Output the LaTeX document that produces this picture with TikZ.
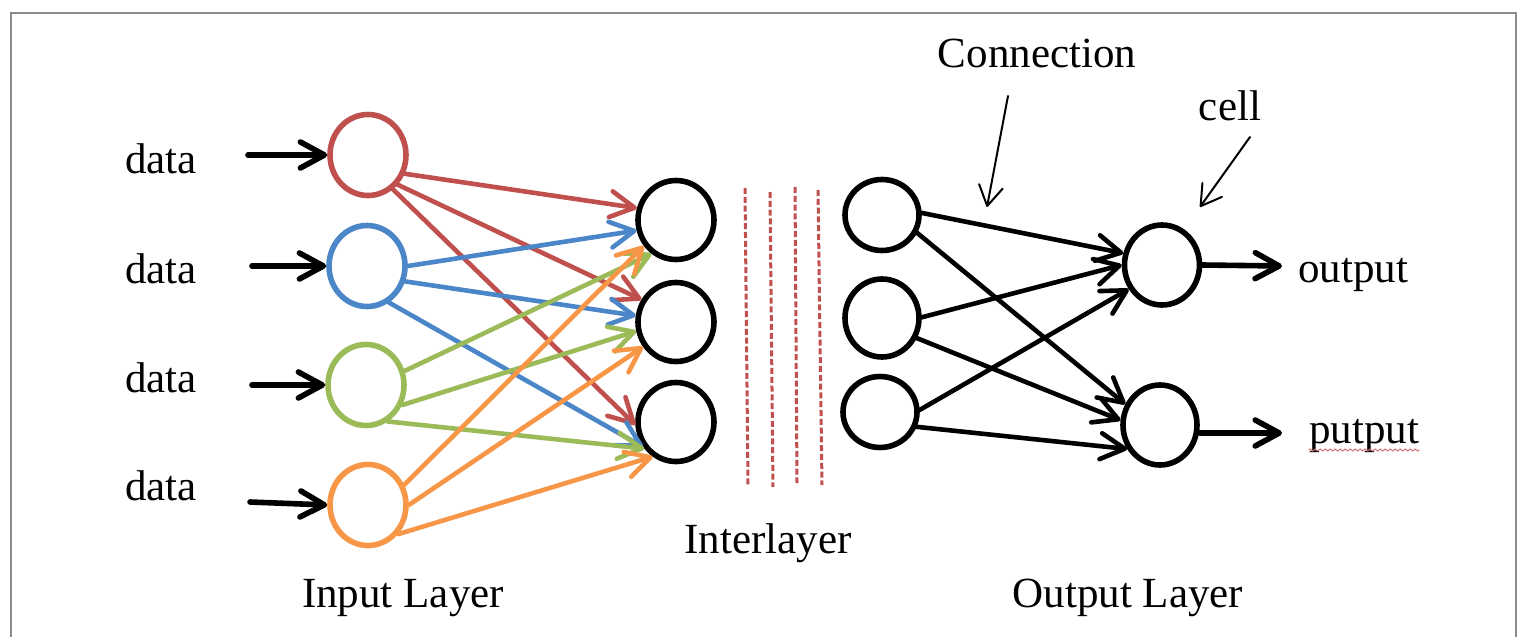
\documentclass[tikz,border=0pt]{standalone}
\usepackage{fontspec}
\setmainfont{Liberation Serif}
\usetikzlibrary{arrows.meta,shapes.geometric,decorations.pathmorphing}
\definecolor{nnred}{HTML}{C0504D}
\definecolor{nnblue}{HTML}{4A86C8}
\definecolor{nngreen}{HTML}{9BBB59}
\definecolor{nnorange}{HTML}{F79646}
\definecolor{framegray}{HTML}{8C8C8C}
\begin{document}
\begin{tikzpicture}[x=0.5pt,y=-0.5pt,
  neuron/.style={ellipse, draw=black, line width=2.8pt, minimum width=38pt,
                 minimum height=40.5pt, inner sep=0pt},
  lbl/.style={font=\fontsize{21.5}{24}\selectfont, inner sep=0pt, anchor=base},
  feed/.style={line width=2.3pt, line cap=round,
               -{Straight Barb[length=12pt,width=13pt,round]}},
  link/.style={feed, draw=black},
  inarrow/.style={line width=2.8pt, line cap=round,
                  -{Straight Barb[length=12pt,width=13pt,round]}},
  pointer/.style={line width=1pt, line cap=round,
                  -{Straight Barb[length=10pt,width=12pt,round]}},
  sep/.style={draw=nnred, line width=1.5pt, dash pattern=on 3pt off 1.4pt},
  frame/.style={draw=framegray, line width=0.8pt}
]
\useasboundingbox (0,0) rectangle (1528,637);
\draw[frame] (11,637) -- (11,13) -- (1516,13) -- (1516,637);

% input layer
\node[neuron, draw=nnred]    (i1) at (368,155) {};
\node[neuron, draw=nnblue]   (i2) at (367,266) {};
\node[neuron, draw=nngreen]  (i3) at (366,385) {};
\node[neuron, draw=nnorange] (i4) at (368,505) {};

% first hidden column
\node[neuron, minimum height=39.5pt] (h1) at (676,220) {};
\node[neuron, minimum height=39.5pt] (h2) at (676,322) {};
\node[neuron, minimum height=39.5pt] (h3) at (676,422) {};

% second hidden column
\node[neuron, minimum width=37pt, minimum height=35.5pt] (c1) at (882,215) {};
\node[neuron, minimum width=37pt, minimum height=39pt]   (c2) at (882,318) {};
\node[neuron, minimum width=37pt, minimum height=35.5pt] (c3) at (880,412) {};

% output layer
\node[neuron, minimum width=37.5pt, minimum height=40pt] (o1) at (1162,265) {};
\node[neuron, minimum width=37pt, minimum height=40pt]   (o2) at (1160,425) {};

% inputs
\foreach \k/\yy/\yb/\xt in {1/155/173/248, 2/266/283/252, 3/385/392/252, 4/502/500/250}{
  \node[lbl] (d\k) at (161,\yb) {data};
  \coordinate (t\k) at (\xt,\yy);
}
\draw[inarrow] (t1) -- (i1.west);
\draw[inarrow] (t2) -- (i2.west);
\draw[inarrow] (t3) -- (i3.west);
\draw[inarrow] (t4) -- (i4.west);

% fully connected input -> hidden
\draw[feed, nnred] (i1.-27) -- (h1.163);
\draw[feed, nnred] (i1.-45) -- (h2.147);
\draw[feed, nnred] (i1.-54) -- (h3.184);
\draw[feed, nnblue] (i2.0)   -- (h1.195);
\draw[feed, nnblue] (i2.-22) -- (h2.171);
\draw[feed, nnblue] (i2.-59) -- (h3.217);
\draw[feed, nngreen] (i3.20)  -- (h1.234);
\draw[feed, nngreen] (i3.-29) -- (h2.193);
\draw[feed, nngreen] (i3.-59) -- (h3.220);
\draw[feed, nnorange] (i4.29)  -- (h1.219);
\draw[feed, nnorange] (i4.0)   -- (h2.217);
\draw[feed, nnorange] (i4.-44) -- (h3.236);

% interlayer separators
\draw[sep] (745,188) -- (748,485);
\draw[sep] (770,192) -- (773,487);
\draw[sep] (795,187) -- (797,483);
\draw[sep] (818,190) -- (822,485);

% hidden -> output
\draw[link] (c1.3)   -- (o1.163);
\draw[link] (c1.-27) -- (o2.149);
\draw[link] (c2.1)   -- (o1.180);
\draw[link] (c2.-30) -- (o2.173);
\draw[link] (c3.3)   -- (o1.216);
\draw[link] (c3.-22) -- (o2.216);

% outputs
\coordinate (e1) at (1282,266);
\coordinate (e2) at (1282,433);
\draw[inarrow] (o1.east) -- (e1);
\draw[inarrow] (o2.east |- e2) -- (e2);
\node[lbl] (out1) at (1353,282) {output};
\node[lbl] (out2) at (1364,443) {putput};
\draw[nnred!80, line width=0.5pt, decorate,
      decoration={snake, amplitude=0.5pt, segment length=2.5pt}]
  ([yshift=-3.5pt]out2.base west) -- ([yshift=-3.5pt]out2.base east);

% annotations
\node[lbl] (conn) at (1037,68) {Connection};
\node[lbl] (cell) at (1230,120) {cell};
\coordinate (ca) at (1008,96);
\coordinate (cb) at (987,207);
\coordinate (la) at (1250,137);
\coordinate (lb) at (1200,207);
\draw[pointer] (ca) -- (cb);
\draw[pointer] (la) -- (lb);

% layer captions
\node[lbl] (inl)  at (403,607)  {Input Layer};
\node[lbl] (midl) at (768,553)  {Interlayer};
\node[lbl] (outl) at (1128,607) {Output Layer};
\end{tikzpicture}
\end{document}
